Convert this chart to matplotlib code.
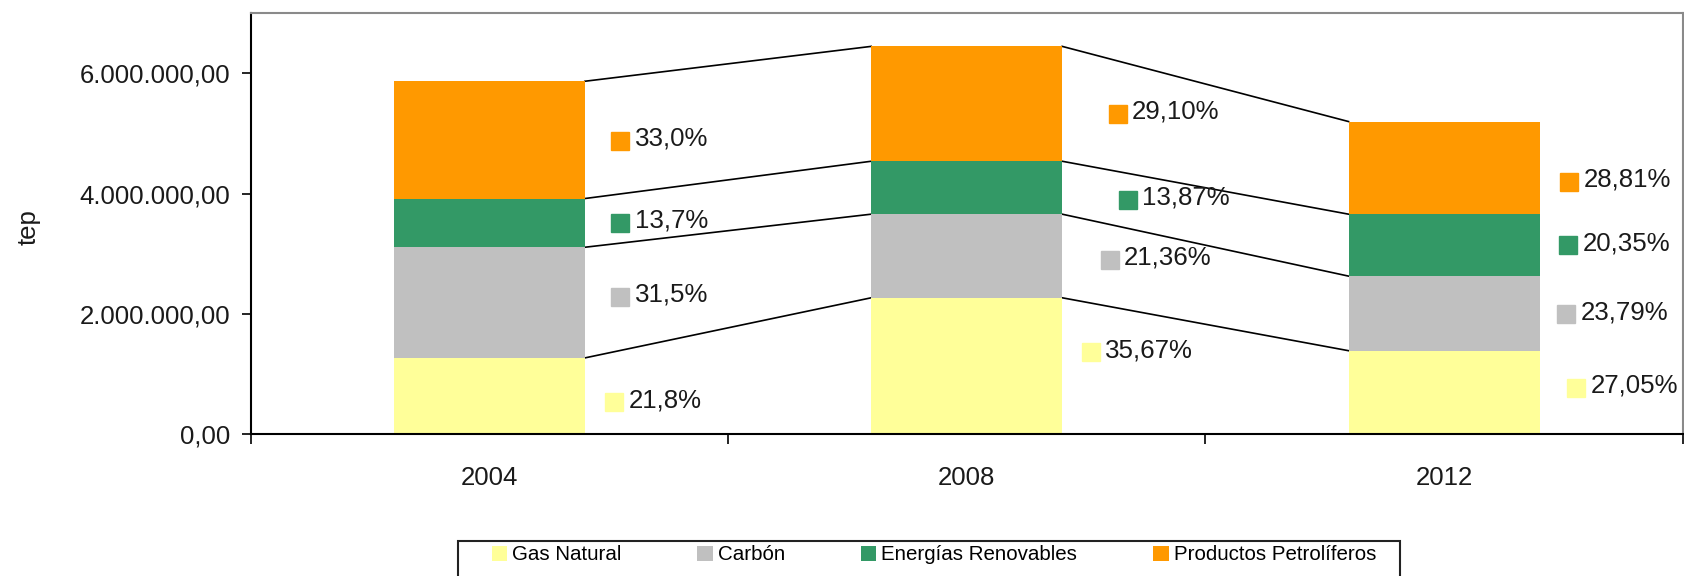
import matplotlib.pyplot as plt
import matplotlib.transforms as mtransforms
from matplotlib.patches import Rectangle
from matplotlib.ticker import FuncFormatter
import numpy as np

plt.rcParams['font.family'] = ['Liberation Sans', 'DejaVu Sans']

# Data (tep)
years = ['2004', '2008', '2012']
series = ['Gas Natural', 'Carbón', 'Energías Renovables', 'Productos Petrolíferos']
gas_natural = [1270000, 2270000, 1390000]
carbon = [1840000, 1390000, 1240000]
renovables = [810000, 880000, 1030000]
petroliferos = [1950000, 1910000, 1540000]

# percentage labels shown next to each segment
pct_gas = ['21,8%', '35,67%', '27,05%']
pct_carbon = ['31,5%', '21,36%', '23,79%']
pct_renov = ['13,7%', '13,87%', '20,35%']
pct_petro = ['33,0%', '29,10%', '28,81%']

y_ticks = [0, 2000000, 4000000, 6000000]

colors = ['#FFFF99', '#C0C0C0', '#339966', '#FF9900']

# label nudges in pixels: right of the bar edge / down from the segment middle
label_dx = [[21, 20, 28], [27, 39, 18], [27, 57, 20], [27, 47, 21]]
label_dy = [[6, -14, -5], [-6, 4, 1], [0, 12, 0], [1, 10, 14]]

W, H = 1684, 576
fig = plt.figure(figsize=(W / 100, H / 100), dpi=100)
ax = fig.add_axes([250.7 / W, 1 - 434.3 / H, (1682.7 - 250.7) / W, (434.3 - 13.3) / H])

values = [gas_natural, carbon, renovables, petroliferos]
pcts = [pct_gas, pct_carbon, pct_renov, pct_petro]
x = np.arange(len(years))
w = 0.4
bottom = np.zeros(len(years))
handles = []

for k in range(len(series)):
    vals = np.array(values[k], dtype=float)
    b = ax.bar(x, vals, w, bottom=bottom, color=colors[k], linewidth=0, label=series[k], zorder=2)
    handles.append(b)
    mids = bottom + vals / 2
    for i in range(len(years)):
        tr_sq = mtransforms.offset_copy(ax.transData, fig=fig, x=label_dx[k][i] + 8.5,
                                        y=-label_dy[k][i], units='dots')
        ax.plot(x[i] + w / 2, mids[i], marker='s', ms=12.3, color=colors[k],
                mec=colors[k], transform=tr_sq, clip_on=False, zorder=3)
        tr_tx = mtransforms.offset_copy(ax.transData, fig=fig, x=label_dx[k][i] + 23,
                                        y=-label_dy[k][i] + 2, units='dots')
        ax.text(x[i] + w / 2, mids[i], pcts[k][i], transform=tr_tx, ha='left', va='center',
                fontsize=18.6, color='#1a1a1a', clip_on=False, zorder=3)
    bottom = bottom + vals
    # series lines joining the segment tops
    for i in range(len(years) - 1):
        ax.plot([x[i] + w / 2, x[i + 1] - w / 2], [bottom[i], bottom[i + 1]],
                color='black', lw=1.2, zorder=1)

ax.set_xlim(-0.5, len(years) - 0.5)
ax.set_ylim(0, 7000000)

ax.set_yticks(y_ticks)
ax.yaxis.set_major_formatter(FuncFormatter(
    lambda v, p: f'{v:,.2f}'.replace(',', 'X').replace('.', ',').replace('X', '.')))
ax.tick_params(axis='y', length=6.5, width=1.2, pad=8.4, labelsize=18.5, labelcolor='#1a1a1a')

ax.set_xticks(np.arange(-0.5, len(years)), labels=[])
ax.set_xticks(x, labels=years, minor=True)
ax.tick_params(axis='x', which='major', length=7.2, width=1.2)
ax.tick_params(axis='x', which='minor', length=0, pad=22.5, labelsize=18.5, labelcolor='#1a1a1a')

for s in ['left', 'bottom']:
    ax.spines[s].set_color('black')
    ax.spines[s].set_linewidth(1.5)
for s in ['top', 'right']:
    ax.spines[s].set_color('#8a8a8a')
    ax.spines[s].set_linewidth(1.5)

fig.text(29 / W, 1 - 227 / H, 'tep', rotation=90, ha='center', va='center',
         fontsize=18.5, color='#1a1a1a')

# legend box (runs off the bottom edge, as in the source)
fig.patches.append(Rectangle((458 / W, -0.1), (1400 - 458) / W, 0.1 + (1 - 541 / H),
                             transform=fig.transFigure, fill=False, edgecolor='#222222', lw=1.5))
fig.legend(handles=handles, loc='center left', bbox_to_anchor=(491.7 / W, 1 - 555 / H),
           ncol=4, frameon=False, fontsize=14.8, handlelength=0.74, handleheight=0.77,
           handletextpad=0.25, columnspacing=3.7, borderpad=0, borderaxespad=0)

fig.savefig('out.png', dpi=100)
